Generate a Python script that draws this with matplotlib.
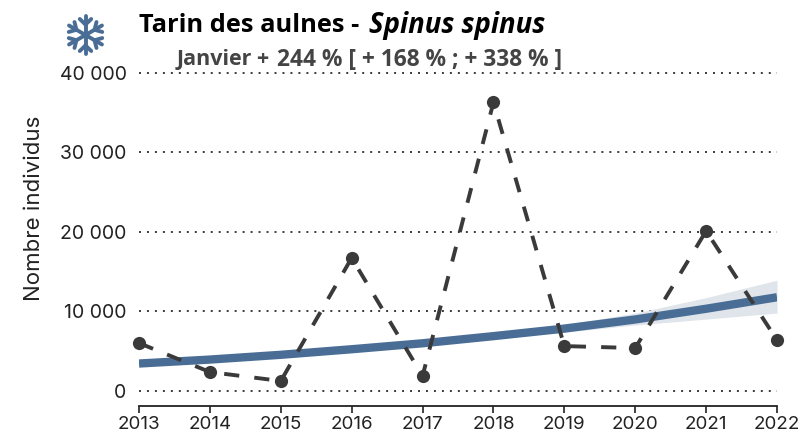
import numpy as np
import matplotlib
matplotlib.use("Agg")
import matplotlib.pyplot as plt
from matplotlib.lines import Line2D

years = [2013, 2014, 2015, 2016, 2017, 2018, 2019, 2020, 2021, 2022]
counts = [5980, 2330, 1200, 16700, 1830, 36300, 5600, 5350, 20100, 6360]
trend = [3400, 3900, 4500, 5200, 5950, 6850, 7800, 8950, 10300, 11750]
trend_low = [3300, 3800, 4400, 5100, 5800, 6600, 7350, 8250, 9000, 9760]
trend_high = [3500, 4000, 4600, 5300, 6100, 7100, 8300, 9750, 11700, 13900]
yticks = [0, 10000, 20000, 30000, 40000]
ytick_labels = ["0", "10 000", "20 000", "30 000", "40 000"]

blue = "#4a6d96"
dark = "#3a3a3a"
W, H = 802, 432

fig = plt.figure(figsize=(W / 100, H / 100), dpi=100)
ax = fig.add_axes([139 / W, 1 - 406 / H, (777 - 139) / W, (406 - 73) / H])
ax.set_xlim(2013, 2022)
ax.set_ylim(-1950, 40000)
ax.patch.set_alpha(0)

for t in yticks:
    ax.plot([2013, 2022], [t, t], color=dark, lw=1.4, ls=(0, (1, 3.1)), zorder=1, clip_on=False)

ax.fill_between(years, trend_low, trend_high, color="#dfe5ea", lw=0, zorder=2)
ax.plot(years, trend, color=blue, lw=6, solid_capstyle="butt", zorder=3)
ax.plot(years, counts, color=dark, lw=2.8, ls=(0, (3.9, 3.9)), zorder=4)
ax.plot(years, counts, "o", color=dark, ms=9.5, mew=0, zorder=5, clip_on=False)

for s in ["top", "right", "left"]:
    ax.spines[s].set_visible(False)
ax.spines["bottom"].set_linewidth(1.3)
ax.spines["bottom"].set_color("#222222")
ax.set_xticks(years)
ax.set_yticks(yticks)
ax.set_yticklabels(ytick_labels)
ax.tick_params(axis="x", length=5, width=1.2, color="#222222", labelsize=13.5, pad=2, labelcolor="#222222")
ax.tick_params(axis="y", length=0, labelsize=14, pad=9, labelcolor="#222222")
for lab in ax.get_xticklabels() + ax.get_yticklabels():
    lab.set_fontfamily("Inter")

fig.text(34 / W, 1 - 208 / H, "Nombre individus", rotation=90, fontsize=16, family="Inter",
         color="#222222", ha="center", va="center")

fig.text(139 / W, 1 - 26 / H, "Tarin des aulnes -", fontsize=18.3, family="Open Sans", weight="bold",
         color="black", ha="left", va="center")
fig.text(369 / W, 1 - 26 / H, "Spinus spinus", fontsize=19.8, family="Open Sans", weight="bold",
         style="italic", color="black", ha="left", va="center")
fig.text(177 / W, 1 - 59.5 / H, "Janvier +", fontsize=15.5, family="Open Sans", weight="bold",
         color="#444444", ha="left", va="center")
fig.text(277 / W, 1 - 59.5 / H, "244 % [ + 168 % ; + 338 % ]", fontsize=16.4, family="Open Sans", weight="bold",
         color="#444444", ha="left", va="center")

# flocon dessine a la main
cx, cy, r = 85.5, 35, 19
for a in np.deg2rad([30, 90, 150, 210, 270, 330]):
    ux, uy = np.cos(a), np.sin(a)
    fig.add_artist(Line2D([cx / W, (cx + r * ux) / W], [1 - cy / H, 1 - (cy - r * uy) / H],
                          color=blue, lw=2.8, solid_capstyle="round"))
    bx, by = cx + 0.55 * r * ux, cy - 0.55 * r * uy
    for d in [0.8, -0.8]:
        vx, vy = np.cos(a + d), np.sin(a + d)
        fig.add_artist(Line2D([bx / W, (bx + 0.42 * r * vx) / W], [1 - by / H, 1 - (by - 0.42 * r * vy) / H],
                              color=blue, lw=2.8, solid_capstyle="round"))

fig.savefig("out.png", dpi=100)
